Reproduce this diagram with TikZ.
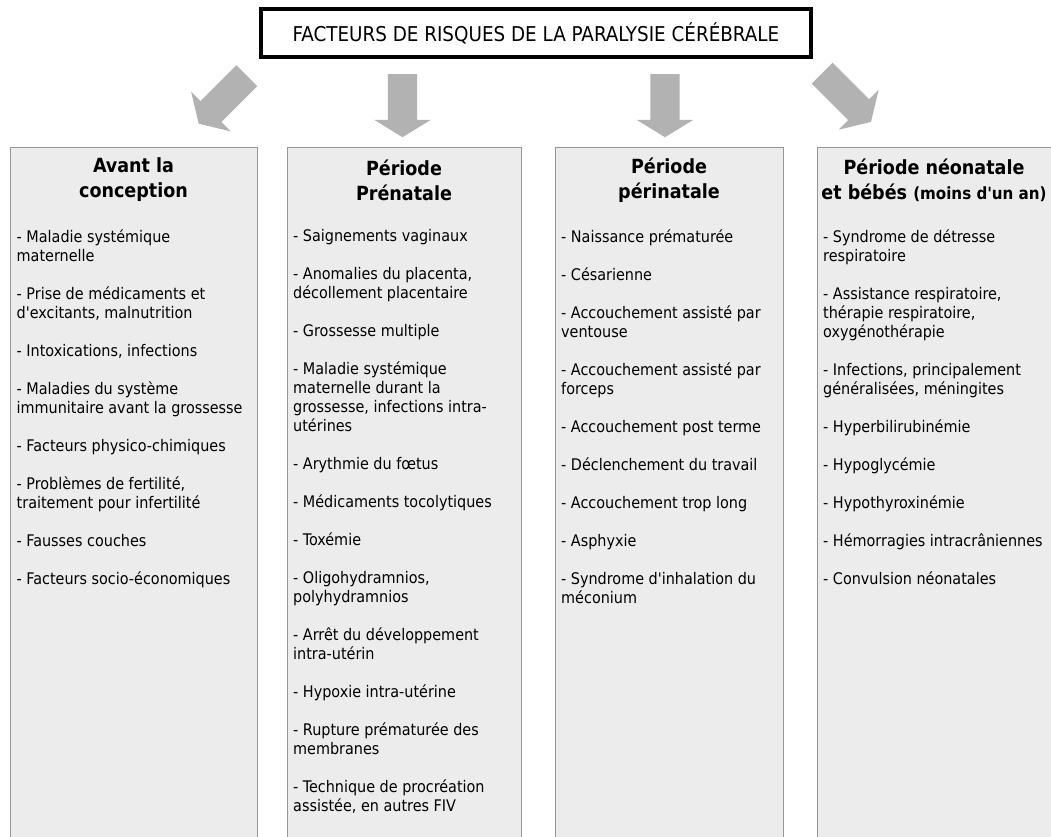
\documentclass[tikz,border=0pt]{standalone}
\usepackage{fontspec}
\setmainfont{DejaVu Sans Condensed}
\usetikzlibrary{shapes.arrows}

\definecolor{cardfill}{RGB}{236,236,236}
\definecolor{cardline}{RGB}{150,150,150}
\definecolor{arrowgray}{RGB}{178,178,178}

\tikzset{
  card/.style={draw=cardline, line width=1.2, fill=cardfill, anchor=north west, minimum height=720},
  header/.style={font=\bfseries\fontsize{19.5}{25}\selectfont, align=center, inner sep=0},
  items/.style={font=\fontsize{16}{19}\selectfont, align=left, anchor=north west, inner sep=0},
  bigarrow/.style={single arrow, fill=arrowgray, draw=none, inner xsep=0, inner ysep=14.5,
    minimum height=#1, minimum width=56, single arrow head extend=13.5,
    single arrow tip angle=117, anchor=tail}
}

\begin{document}
\begin{tikzpicture}[x=1pt, y=-1pt]
  \clip (0,0) rectangle (1051,837);
  \fill[white] (0,0) rectangle (1051,837);

  \node[draw, line width=4, fill=white, minimum width=550, minimum height=47.5,
        font=\fontsize{20.4}{24}\selectfont] (title) at (536,33)
        {FACTEURS DE RISQUES DE LA PARALYSIE CÉRÉBRALE};

  \begin{scope}[every node/.style={bigarrow=63}]
    \node[bigarrow=68, rotate=-135] (a1) at (247,75.5) {};
    \node[rotate=-90] (a2) at (402.5,74) {};
    \node[rotate=-90] (a3) at (665,74) {};
    \node[bigarrow=69, rotate=-45] (a4) at (822,73) {};
  \end{scope}

  \begin{scope}[every node/.style={card}]
    \node[minimum width=247] (c1) at (10,147) {};
    \node[minimum width=234] (c2) at (287,147) {};
    \node[minimum width=228] (c3) at (555,147) {};
    \node[minimum width=260] (c4) at (817,147) {};
  \end{scope}

  \begin{scope}[every node/.style={header}]
    \node (h1) at (133.5,180) {Avant la\\conception};
    \node (h2) at (404,180) {Période\\Prénatale};
    \node (h3) at (669,180) {Période\\périnatale};
    \node (h4) at (934,180) {Période néonatale\\et bébés {\fontsize{16.8}{25}\selectfont(moins d\textquotesingle un an)}};
  \end{scope}

  \begin{scope}[every node/.style={items}]
    \node (t1) at (16.5,229) {- Maladie systémique\\maternelle\\[19pt]
      - Prise de médicaments et\\d\textquotesingle excitants, malnutrition\\[19pt]
      - Intoxications, infections\\[19pt]
      - Maladies du système\\immunitaire avant la grossesse\\[19pt]
      - Facteurs physico-chimiques\\[19pt]
      - Problèmes de fertilité,\\traitement pour infertilité\\[19pt]
      - Fausses couches\\[19pt]
      - Facteurs socio-économiques};
    \node (t2) at (293,229) {- Saignements vaginaux\\[19pt]
      - Anomalies du placenta,\\décollement placentaire\\[19pt]
      - Grossesse multiple\\[19pt]
      - Maladie systémique\\maternelle durant la\\grossesse, infections intra-\\utérines\\[19pt]
      - Arythmie du fœtus\\[19pt]
      - Médicaments tocolytiques\\[19pt]
      - Toxémie\\[19pt]
      - Oligohydramnios,\\polyhydramnios\\[19pt]
      - Arrêt du développement\\intra-utérin\\[19pt]
      - Hypoxie intra-utérine\\[19pt]
      - Rupture prématurée des\\membranes\\[19pt]
      - Technique de procréation\\assistée, en autres FIV};
    \node (t3) at (561,229) {- Naissance prématurée\\[19pt]
      - Césarienne\\[19pt]
      - Accouchement assisté par\\ventouse\\[19pt]
      - Accouchement assisté par\\forceps\\[19pt]
      - Accouchement post terme\\[19pt]
      - Déclenchement du travail\\[19pt]
      - Accouchement trop long\\[19pt]
      - Asphyxie\\[19pt]
      - Syndrome d\textquotesingle inhalation du\\méconium};
    \node (t4) at (823,229) {- Syndrome de détresse\\respiratoire\\[19pt]
      - Assistance respiratoire,\\thérapie respiratoire,\\oxygénothérapie\\[19pt]
      - Infections, principalement\\généralisées, méningites\\[19pt]
      - Hyperbilirubinémie\\[19pt]
      - Hypoglycémie\\[19pt]
      - Hypothyroxinémie\\[19pt]
      - Hémorragies intracrâniennes\\[19pt]
      - Convulsion néonatales};
  \end{scope}
\end{tikzpicture}
\end{document}
